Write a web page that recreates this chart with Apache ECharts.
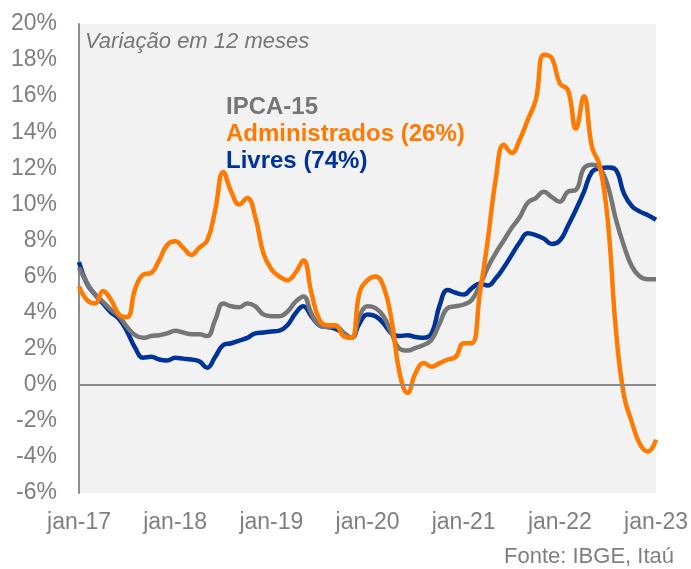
<!DOCTYPE html>
<html>
<head>
<meta charset="utf-8">
<script src="https://cdn.jsdelivr.net/npm/echarts@6/dist/echarts.min.js"></script>
<style>
html,body{margin:0;padding:0;background:#fff;}
#chart{width:691px;height:569px;}
</style>
</head>
<body>
<div id="chart"></div>
<script>
var monthNames = ['jan','fev','mar','abr','mai','jun','jul','ago','set','out','nov','dez'];
var years = ['17','18','19','20','21','22','23'];
var categories = [];
years.forEach(function(y, i){
  monthNames.forEach(function(m, j){
    if (i < years.length - 1 || j === 0) categories.push(m + '-' + y);
  });
});

var ipca15 = [6.5,5.65,5.0,4.6,4.15,3.8,3.2,2.75,2.6,2.7,2.75,2.85,3.0,2.9,2.8,2.8,2.7,3.6,4.5,4.35,4.3,4.5,4.35,3.9,3.8,
  3.8,4.05,4.6,4.9,3.95,3.3,3.2,3.25,2.9,2.6,3.8,4.35,4.25,3.8,2.85,2.0,1.9,2.05,2.2,2.5,3.4,4.25,4.35,4.45,
  4.7,5.5,6.5,7.3,8.0,8.7,9.3,10.1,10.35,10.7,10.4,10.15,10.7,10.8,12.0,12.2,12.0,11.0,9.15,7.7,6.55,6.0,5.85,5.85];

var administrados = [5.45,4.7,4.5,5.2,4.7,3.9,3.75,5.3,6.1,6.2,6.9,7.75,7.95,7.6,7.2,7.6,8.0,9.7,11.8,10.7,10.0,10.35,9.3,7.3,6.4,
  6.0,5.8,6.2,6.9,5.1,3.6,3.3,3.3,2.7,2.6,5.1,5.8,6.0,5.45,3.6,0.65,-0.45,0.65,1.2,1.0,1.2,1.4,1.55,2.3,
  2.3,5.0,8.0,11.4,13.3,12.85,13.6,14.7,15.8,18.3,18.1,16.7,16.35,14.2,16.0,13.2,12.1,9.0,3.0,-0.6,-2.1,-3.3,-3.7,-3.05];

var livres = [6.8,5.6,5.0,4.5,4.0,3.65,2.95,2.05,1.5,1.55,1.4,1.35,1.5,1.45,1.4,1.3,0.95,1.55,2.2,2.3,2.45,2.6,2.85,2.9,2.95,
  3.0,3.3,3.95,4.35,3.8,3.3,3.2,3.1,2.85,2.6,3.4,3.9,3.8,3.4,2.85,2.7,2.75,2.65,2.6,2.85,4.4,5.25,5.1,5.0,
  5.35,5.6,5.5,5.9,6.5,7.2,7.9,8.4,8.3,8.1,7.8,8.0,8.8,9.7,10.7,11.8,12.0,12.05,11.9,10.6,9.9,9.6,9.4,9.15];

var yMin = -6, yMax = 20, yStep = 2;

var chart = echarts.init(document.getElementById('chart'), null, {renderer:'canvas'});
var font = '"Liberation Sans", Arial, sans-serif';
chart.setOption({
  animation: false,
  backgroundColor: '#ffffff',
  grid: {left: 79, right: 33, top: 24, bottom: 76, show: true, backgroundColor: '#f2f2f2', borderWidth: 0},
  xAxis: {
    type: 'category',
    data: categories,
    boundaryGap: false,
    axisLine: {show: false},
    axisTick: {show: false},
    splitLine: {show: false},
    axisLabel: {interval: 11, color: '#7f7f7f', fontSize: 23, fontFamily: font, margin: 18}
  },
  yAxis: {
    type: 'value',
    min: yMin, max: yMax, interval: yStep,
    axisLine: {show: true, lineStyle: {color: '#8c8c8c', width: 2}},
    axisTick: {show: false},
    splitLine: {show: false},
    axisLabel: {formatter: '{value}%', color: '#7f7f7f', fontSize: 23, fontFamily: font, margin: 22}
  },
  series: [
    {name: 'Livres (74%)', type: 'line', data: livres, smooth: 0.45, symbol: 'none',
     lineStyle: {color: '#003399', width: 4.5},
     markLine: {silent: true, symbol: 'none', label: {show: false},
       lineStyle: {color: '#8c8c8c', width: 2, type: 'solid'}, data: [{yAxis: 0}]}},
    {name: 'IPCA-15', type: 'line', data: ipca15, smooth: 0.45, symbol: 'none',
     lineStyle: {color: '#767676', width: 4.5}},
    {name: 'Administrados (26%)', type: 'line', data: administrados, smooth: 0.45, symbol: 'none',
     lineStyle: {color: '#ff7a00', width: 4.5}}
  ],
  graphic: [
    {type: 'text', left: 85, top: 31, style: {text: 'Variação em 12 meses', font: 'italic 22px ' + font, fill: '#767676'}},
    {type: 'text', left: 226, top: 95, style: {text: 'IPCA-15', font: 'bold 24px ' + font, fill: '#767676'}},
    {type: 'text', left: 226, top: 122, style: {text: 'Administrados (26%)', font: 'bold 24px ' + font, fill: '#ff7a00'}},
    {type: 'text', left: 226, top: 149, style: {text: 'Livres (74%)', font: 'bold 24px ' + font, fill: '#003399'}},
    {type: 'text', right: 17, top: 546, style: {text: 'Fonte: IBGE, Itaú', font: '22px ' + font, fill: '#7f7f7f'}}
  ]
});
</script>
</body>
</html>
